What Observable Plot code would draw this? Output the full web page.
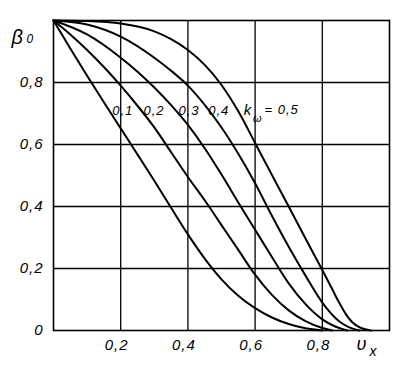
<!DOCTYPE html>
<html>
<head>
<meta charset="utf-8">
<script src="https://cdn.jsdelivr.net/npm/d3@7"></script>
<script src="https://cdn.jsdelivr.net/npm/@observablehq/plot@0.6"></script>
<style>
  html, body { margin: 0; padding: 0; background: #fff; }
  #chart { width: 397px; height: 372px; }
</style>
</head>
<body>
<div id="chart"></div>
<script>
// Curve parameter values
const kValues = [0.1, 0.2, 0.3, 0.4, 0.5];

// Readings of each curve: v_x and beta_0
const vx_k01   = [0, 0.05, 0.1, 0.15, 0.2, 0.25, 0.3, 0.35, 0.4, 0.45, 0.5, 0.55, 0.6, 0.65, 0.7, 0.75, 0.8];
const beta_k01 = [1, 0.91, 0.822, 0.736, 0.652, 0.568, 0.483, 0.396, 0.31, 0.232, 0.165, 0.112, 0.072, 0.042, 0.021, 0.007, 0];

const vx_k02   = [0, 0.05, 0.1, 0.15, 0.2, 0.25, 0.3, 0.35, 0.4, 0.45, 0.5, 0.55, 0.6, 0.65, 0.7, 0.75, 0.8, 0.83];
const beta_k02 = [1, 0.955, 0.905, 0.85, 0.79, 0.725, 0.655, 0.575, 0.495, 0.42, 0.34, 0.26, 0.18, 0.115, 0.065, 0.03, 0.008, 0];

const vx_k03   = [0, 0.1, 0.2, 0.25, 0.3, 0.35, 0.4, 0.45, 0.5, 0.55, 0.6, 0.65, 0.7, 0.75, 0.8, 0.84, 0.875];
const beta_k03 = [1, 0.955, 0.88, 0.835, 0.784, 0.727, 0.663, 0.588, 0.503, 0.413, 0.325, 0.237, 0.152, 0.085, 0.036, 0.012, 0];

const vx_k04   = [0, 0.1, 0.2, 0.3, 0.35, 0.4, 0.45, 0.5, 0.55, 0.6, 0.65, 0.7, 0.75, 0.8, 0.85, 0.88, 0.91];
const beta_k04 = [1, 0.987, 0.948, 0.88, 0.838, 0.79, 0.728, 0.655, 0.57, 0.475, 0.37, 0.27, 0.177, 0.09, 0.03, 0.01, 0];

const vx_k05   = [0, 0.1, 0.2, 0.3, 0.35, 0.4, 0.45, 0.5, 0.55, 0.6, 0.65, 0.7, 0.75, 0.8, 0.83, 0.85, 0.87, 0.89, 0.915, 0.945];
const beta_k05 = [1, 0.998, 0.99, 0.965, 0.94, 0.905, 0.857, 0.792, 0.707, 0.605, 0.502, 0.4, 0.297, 0.195, 0.132, 0.09, 0.053, 0.026, 0.008, 0];

const vxSeries = [vx_k01, vx_k02, vx_k03, vx_k04, vx_k05];
const betaSeries = [beta_k01, beta_k02, beta_k03, beta_k04, beta_k05];

// Tick values
const xTicks = [0.2, 0.4, 0.6, 0.8];
const yTicks = [0, 0.2, 0.4, 0.6, 0.8];

// Curve labels (text) and their anchor positions in data units
const curveLabelText = ["0,1", "0,2", "0,3", "0,4"];
const curveLabelX = [0.206, 0.299, 0.403, 0.492];
const curveLabelY = [0.708, 0.708, 0.708, 0.708];
const kLabelMain = "k";
const kLabelSub = "ω";
const kLabelValue = "= 0,5";
const kLabelX = [0.566, 0.594, 0.628];
const kLabelY = [0.712, 0.684, 0.712];

// Axis titles
const yTitle = "β";
const yTitleSub = "0";
const xTitle = "υ";
const xTitleSub = "x";

const fmt = d => d === 0 ? "0" : d.toFixed(1).replace(".", ",");

const rows = [];
kValues.forEach((k, i) => {
  vxSeries[i].forEach((vx, j) => rows.push({k, vx, beta: betaSeries[i][j]}));
});

const font = "'Liberation Sans', 'DejaVu Sans', sans-serif";

const chart = Plot.plot({
  width: 397,
  height: 372,
  marginLeft: 53,
  marginRight: 8,
  marginTop: 20,
  marginBottom: 42,
  style: {fontFamily: font, fontStyle: "italic", color: "#000", background: "#fff", letterSpacing: "1px"},
  x: {domain: [0, 1], label: null},
  y: {domain: [0, 1], label: null},
  marks: [
    Plot.gridX(xTicks, {stroke: "#000", strokeOpacity: 1, strokeWidth: 1.3}),
    Plot.gridY(yTicks.filter(d => d > 0), {stroke: "#000", strokeOpacity: 1, strokeWidth: 1.3}),
    Plot.frame({stroke: "#000", strokeWidth: 1.6}),
    Plot.axisX(xTicks, {tickSize: 0, tickPadding: 9, fontSize: 15, dx: -4, fill: "#000", tickFormat: fmt}),
    Plot.axisY(yTicks, {tickSize: 0, tickPadding: 10, fontSize: 15, fill: "#000", tickFormat: fmt}),
    Plot.line(rows, {x: "vx", y: "beta", z: "k", stroke: "#000", strokeWidth: 2, curve: "monotone-x"}),
    Plot.text(curveLabelText, {x: (d, i) => curveLabelX[i], y: (d, i) => curveLabelY[i], text: d => d, fontSize: 13, fill: "#000", letterSpacing: "0.3px"}),
    Plot.text([kLabelMain], {x: kLabelX[0], y: kLabelY[0], text: d => d, textAnchor: "start", fontSize: 15, fill: "#000"}),
    Plot.text([kLabelSub], {x: kLabelX[1], y: kLabelY[1], text: d => d, textAnchor: "start", fontSize: 11, fill: "#000", letterSpacing: "0px"}),
    Plot.text([kLabelValue], {x: kLabelX[2], y: kLabelY[2], text: d => d, textAnchor: "start", fontSize: 13, fill: "#000"}),
    Plot.text([yTitle], {frameAnchor: "top-left", dx: -42, dy: 9, text: d => d, textAnchor: "start", fontSize: 20, fill: "#000"}),
    Plot.text([yTitleSub], {frameAnchor: "top-left", dx: -27, dy: 14, text: d => d, textAnchor: "start", fontSize: 12, fill: "#000"}),
    Plot.text([xTitle], {frameAnchor: "bottom-right", dx: -33, dy: 19, text: d => d, textAnchor: "start", fontSize: 18, fill: "#000"}),
    Plot.text([xTitleSub], {frameAnchor: "bottom-right", dx: -20, dy: 25, text: d => d, textAnchor: "start", fontSize: 14, fill: "#000"})
  ]
});
document.getElementById("chart").appendChild(chart);
</script>
</body>
</html>
